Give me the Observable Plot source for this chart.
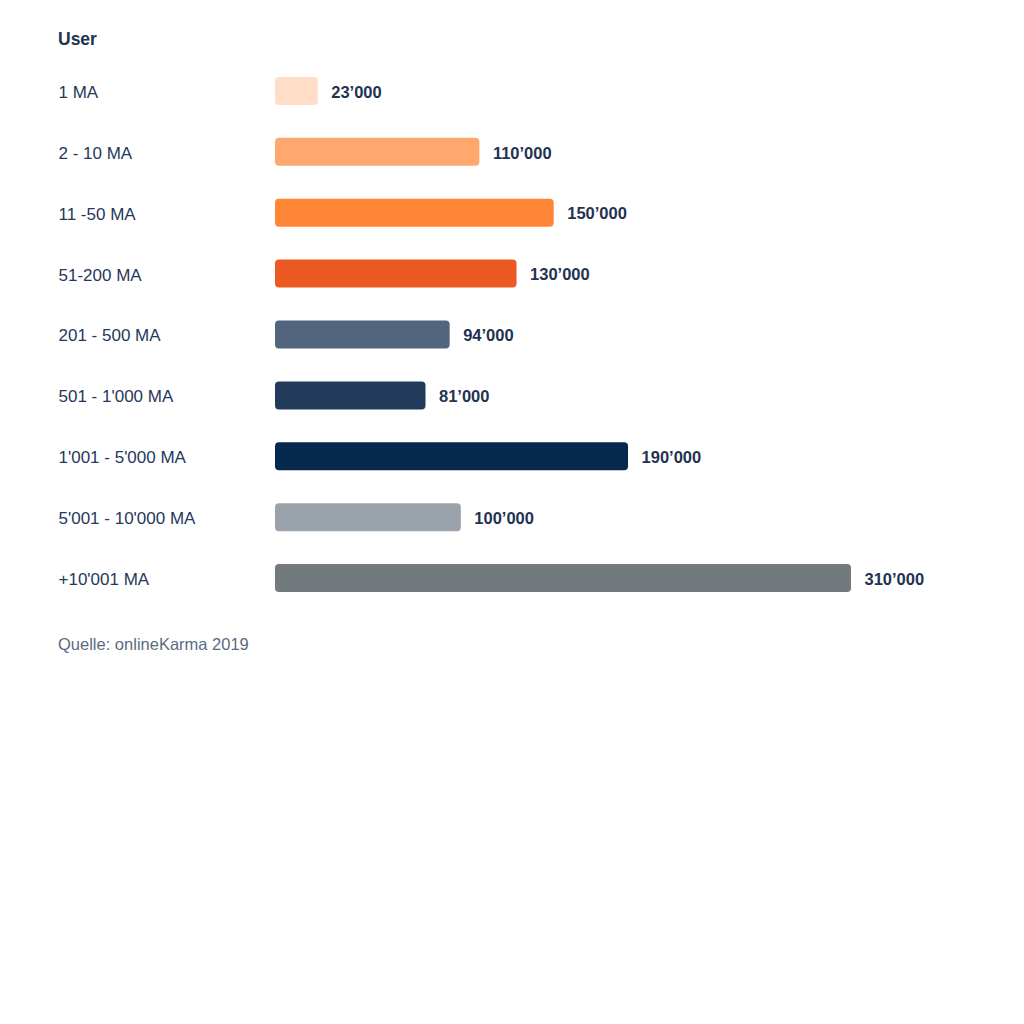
<!DOCTYPE html>
<html>
<head>
<meta charset="utf-8">
<script src="https://cdn.jsdelivr.net/npm/d3@7"></script>
<script src="https://cdn.jsdelivr.net/npm/@observablehq/plot@0.6"></script>
<style>
  html, body { margin: 0; padding: 0; background: #fff; }
  body { width: 1024px; height: 1024px; font-family: "Liberation Sans", Arial, Helvetica, sans-serif; }
  #title { box-sizing: border-box; height: 44px; padding-top: 29px; padding-left: 58px; line-height: 20px; font-size: 17.5px; font-weight: bold; color: #1f3352; }
  #caption { margin-top: 9px; padding-left: 58px; line-height: 20px; font-size: 16.5px; color: #5b6b80; }
</style>
</head>
<body>
<div id="title">User</div>
<div id="chart"></div>
<div id="caption">Quelle: onlineKarma 2019</div>
<script>
const categories = ["1 MA", "2 - 10 MA", "11 -50 MA", "51-200 MA", "201 - 500 MA", "501 - 1'000 MA", "1'001 - 5'000 MA", "5'001 - 10'000 MA", "+10'001 MA"];
const values = [23000, 110000, 150000, 130000, 94000, 81000, 190000, 100000, 310000];
const colors = ["#ffddc6", "#ffa86e", "#ff8636", "#eb5a23", "#52647e", "#213a5a", "#05284f", "#9aa3ab", "#737a7d"];

const data = categories.map((c, i) => ({category: c, value: values[i]}));
const fmt = d3.formatLocale({decimal: ".", thousands: "’", grouping: [3], currency: ["", ""]}).format(",d");

const chart = Plot.plot({
  width: 1024,
  height: 581,
  marginLeft: 275,
  marginRight: 173,
  marginTop: 0,
  marginBottom: 0,
  style: {fontFamily: "'Liberation Sans', Arial, Helvetica, sans-serif", background: "transparent"},
  x: {domain: [0, 310000], axis: null},
  y: {domain: categories, padding: 0.54, round: false, axis: null},
  color: {domain: categories, range: colors},
  marks: [
    Plot.barX(data, {x: "value", y: "category", fill: "category", rx: 4}),
    Plot.text(data, {y: "category", text: "category", frameAnchor: "left", textAnchor: "start", dx: -217, dy: 1, fontSize: 17, fill: "#26385a"}),
    Plot.text(data, {x: "value", y: "category", text: d => fmt(d.value), textAnchor: "start", dx: 13, dy: 1, fontSize: 16.5, fontWeight: "bold", fill: "#1f3352"})
  ]
});
document.getElementById("chart").appendChild(chart);
</script>
</body>
</html>
